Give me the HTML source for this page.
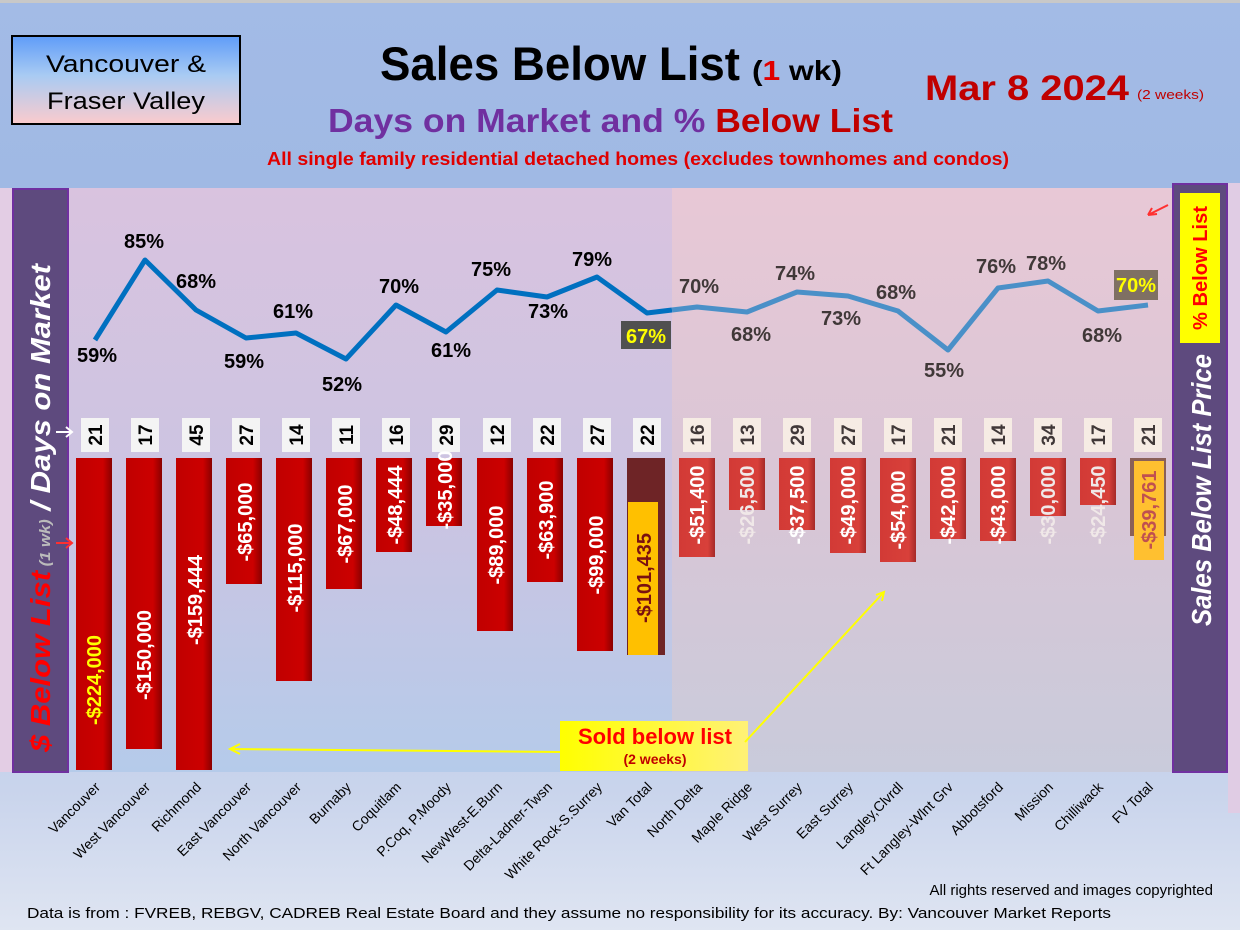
<!DOCTYPE html>
<html><head><meta charset="utf-8"><style>
html,body{margin:0;padding:0;width:1240px;height:930px;overflow:hidden}
svg{display:block;font-family:"Liberation Sans",sans-serif}
</style></head><body>
<svg width="1240" height="930" viewBox="0 0 1240 930" xmlns="http://www.w3.org/2000/svg">
<defs>
<linearGradient id="bg" x1="0" y1="0" x2="0" y2="1"><stop offset="0" stop-color="#a3bbe6"/><stop offset="0.2" stop-color="#a0b9e4"/><stop offset="0.85" stop-color="#c9d4ec"/><stop offset="1" stop-color="#dfe5f2"/></linearGradient>
<linearGradient id="pl" x1="0" y1="0" x2="0" y2="1"><stop offset="0" stop-color="#d9c3df"/><stop offset="0.55" stop-color="#cbc4e2"/><stop offset="1" stop-color="#b5cbea"/></linearGradient>
<linearGradient id="pr" x1="0" y1="0" x2="0" y2="1"><stop offset="0" stop-color="#e8c8d6"/><stop offset="0.55" stop-color="#d8c6d6"/><stop offset="1" stop-color="#c9cbdb"/></linearGradient>
<linearGradient id="logo" x1="0" y1="0" x2="0" y2="1"><stop offset="0" stop-color="#5f9cf8"/><stop offset="0.45" stop-color="#a9cbf3"/><stop offset="1" stop-color="#fbcbcd"/></linearGradient>
<linearGradient id="bar" x1="0" y1="0" x2="1" y2="0"><stop offset="0" stop-color="#c00000"/><stop offset="0.75" stop-color="#cc0000"/><stop offset="1" stop-color="#8a0000"/></linearGradient>
<linearGradient id="bar2" x1="0" y1="0" x2="1" y2="0"><stop offset="0" stop-color="#d23a36"/><stop offset="0.8" stop-color="#d8403a"/><stop offset="1" stop-color="#a52a28"/></linearGradient>
<linearGradient id="sold" x1="0" y1="0" x2="1" y2="0"><stop offset="0" stop-color="#ffff00"/><stop offset="1" stop-color="#fff176"/></linearGradient>
</defs>
<rect width="1240" height="930" fill="url(#bg)"/>
<rect x="0" y="0" width="1240" height="3" fill="#c8c8c8"/>
<rect x="68" y="188" width="604" height="584" fill="url(#pl)"/>
<rect x="672" y="188" width="500" height="584" fill="url(#pr)"/>
<rect x="1228" y="183" width="12" height="630" fill="#e0cce4"/>
<rect x="0" y="188" width="12" height="584" fill="#e3cde4"/>
<rect x="12" y="36" width="228" height="88" fill="url(#logo)" stroke="#000" stroke-width="2"/>
<text x="126" y="72" font-size="24" text-anchor="middle" fill="#000" textLength="160" lengthAdjust="spacingAndGlyphs">Vancouver &amp;</text>
<text x="126" y="109" font-size="24" text-anchor="middle" fill="#000" textLength="158" lengthAdjust="spacingAndGlyphs">Fraser Valley</text>
<text x="380" y="80" font-size="47" font-weight="bold" fill="#000" textLength="360" lengthAdjust="spacingAndGlyphs">Sales Below List</text>
<text x="752" y="80" font-size="28" font-weight="bold" fill="#000" textLength="90" lengthAdjust="spacingAndGlyphs">(<tspan fill="#e00000">1</tspan> wk)</text>
<text x="925" y="100" font-size="35" font-weight="bold" fill="#c00000" textLength="204" lengthAdjust="spacingAndGlyphs">Mar 8  2024</text>
<text x="1137" y="99" font-size="13" fill="#c00000" textLength="67" lengthAdjust="spacingAndGlyphs">(2 weeks)</text>
<text x="328" y="132" font-size="33" font-weight="bold" fill="#7030a0" textLength="565" lengthAdjust="spacingAndGlyphs">Days on Market and % <tspan fill="#c00000">Below List</tspan></text>
<text x="267" y="165" font-size="18" font-weight="bold" fill="#e00000" textLength="742" lengthAdjust="spacingAndGlyphs">All single family residential detached homes (excludes townhomes and condos)</text>
<rect x="13" y="189" width="55" height="583" fill="#5e4a7e" stroke="#7030a0" stroke-width="2"/>
<text transform="translate(50,752) rotate(-90)" font-size="28" font-weight="bold" font-style="italic" fill="#fff" textLength="488" lengthAdjust="spacingAndGlyphs"><tspan fill="#ff0000">$ Below List</tspan><tspan font-size="15" fill="#bbb"> (1 wk)</tspan> / Days on Market</text>
<rect x="1173" y="184" width="54" height="588" fill="#5e4a7e" stroke="#7030a0" stroke-width="2"/>
<rect x="1180" y="193" width="40" height="150" fill="#ffff00"/>
<text transform="translate(1207,330) rotate(-90)" font-size="20" font-weight="bold" fill="#ff0000" textLength="124" lengthAdjust="spacingAndGlyphs">% Below List</text>
<text transform="translate(1211,626) rotate(-90)" font-size="28" font-weight="bold" font-style="italic" fill="#fff" textLength="272" lengthAdjust="spacingAndGlyphs">Sales Below List Price</text>
<path d="M1168 205 L1148 215 M1148 215 l9 -1 M1148 215 l4 -7" stroke="#ff3030" stroke-width="2" fill="none"/>
<path d="M56 432 L72 432 M66 427 l6 5 -6 5" stroke="#fff" stroke-width="2" fill="none"/>
<path d="M56 543 L72 543 M66 538 l6 5 -6 5" stroke="#ff3030" stroke-width="2" fill="none"/>
<polyline fill="none" stroke="#0070c0" stroke-width="5" stroke-linejoin="round" points="95,340 145,260 196,310 246,338 296,333 346,359 396,305 446,332 497,290 547,297 597,277 647,313 672,310"/>
<polyline fill="none" stroke="#4a90c8" stroke-width="5" stroke-linejoin="round" points="672,310 697,307 747,312 797,292 848,296 898,311 948,350 998,288 1048,281 1098,311 1148,305"/>
<g font-size="20" font-weight="bold" text-anchor="middle" fill="#000">
<text x="97" y="362">59%</text><text x="144" y="248">85%</text><text x="196" y="288">68%</text><text x="244" y="368">59%</text><text x="293" y="318">61%</text><text x="342" y="391">52%</text><text x="399" y="293">70%</text><text x="451" y="357">61%</text><text x="491" y="276">75%</text><text x="548" y="318">73%</text><text x="592" y="266">79%</text>
</g>
<rect x="621" y="321" width="50" height="28" fill="#505050"/>
<text x="646" y="343" font-size="20" font-weight="bold" text-anchor="middle" fill="#ffff00">67%</text>
<g font-size="20" font-weight="bold" text-anchor="middle" fill="#403838">
<text x="699" y="293">70%</text><text x="751" y="341">68%</text><text x="795" y="280">74%</text><text x="841" y="325">73%</text><text x="896" y="299">68%</text><text x="944" y="377">55%</text><text x="996" y="273">76%</text><text x="1046" y="270">78%</text><text x="1102" y="342">68%</text>
</g>
<rect x="1114" y="270" width="44" height="30" fill="#7f7063"/>
<text x="1136" y="292" font-size="20" font-weight="bold" text-anchor="middle" fill="#ffff00">70%</text>
<g font-weight="bold">
<g><rect x="81" y="418" width="28" height="34" fill="#f4f4f4"/><text transform="translate(102,435) rotate(-90)" font-size="19" text-anchor="middle">21</text><rect x="76" y="458" width="36" height="312" fill="url(#bar)"/><text transform="translate(101,680) rotate(-90)" font-size="20" text-anchor="middle" fill="#ffff00">-$224,000</text></g>
<g><rect x="131" y="418" width="28" height="34" fill="#f4f4f4"/><text transform="translate(152,435) rotate(-90)" font-size="19" text-anchor="middle">17</text><rect x="126" y="458" width="36" height="291" fill="url(#bar)"/><text transform="translate(151,655) rotate(-90)" font-size="20" text-anchor="middle" fill="#fff">-$150,000</text></g>
<g><rect x="182" y="418" width="28" height="34" fill="#f4f4f4"/><text transform="translate(203,435) rotate(-90)" font-size="19" text-anchor="middle">45</text><rect x="176" y="458" width="36" height="312" fill="url(#bar)"/><text transform="translate(202,600) rotate(-90)" font-size="20" text-anchor="middle" fill="#fff">-$159,444</text></g>
<g><rect x="232" y="418" width="28" height="34" fill="#f4f4f4"/><text transform="translate(253,435) rotate(-90)" font-size="19" text-anchor="middle">27</text><rect x="226" y="458" width="36" height="126" fill="url(#bar)"/><text transform="translate(252,522) rotate(-90)" font-size="20" text-anchor="middle" fill="#fff">-$65,000</text></g>
<g><rect x="282" y="418" width="28" height="34" fill="#f4f4f4"/><text transform="translate(303,435) rotate(-90)" font-size="19" text-anchor="middle">14</text><rect x="276" y="458" width="36" height="223" fill="url(#bar)"/><text transform="translate(302,568) rotate(-90)" font-size="20" text-anchor="middle" fill="#fff">-$115,000</text></g>
<g><rect x="332" y="418" width="28" height="34" fill="#f4f4f4"/><text transform="translate(353,435) rotate(-90)" font-size="19" text-anchor="middle">11</text><rect x="326" y="458" width="36" height="131" fill="url(#bar)"/><text transform="translate(352,524) rotate(-90)" font-size="20" text-anchor="middle" fill="#fff">-$67,000</text></g>
<g><rect x="382" y="418" width="28" height="34" fill="#f4f4f4"/><text transform="translate(403,435) rotate(-90)" font-size="19" text-anchor="middle">16</text><rect x="376" y="458" width="36" height="94" fill="url(#bar)"/><text transform="translate(402,505) rotate(-90)" font-size="20" text-anchor="middle" fill="#fff">-$48,444</text></g>
<g><rect x="432" y="418" width="28" height="34" fill="#f4f4f4"/><text transform="translate(453,435) rotate(-90)" font-size="19" text-anchor="middle">29</text><rect x="426" y="458" width="36" height="68" fill="url(#bar)"/><text transform="translate(452,490) rotate(-90)" font-size="20" text-anchor="middle" fill="#fff">-$35,000</text></g>
<g><rect x="483" y="418" width="28" height="34" fill="#f4f4f4"/><text transform="translate(504,435) rotate(-90)" font-size="19" text-anchor="middle">12</text><rect x="477" y="458" width="36" height="173" fill="url(#bar)"/><text transform="translate(503,545) rotate(-90)" font-size="20" text-anchor="middle" fill="#fff">-$89,000</text></g>
<g><rect x="533" y="418" width="28" height="34" fill="#f4f4f4"/><text transform="translate(554,435) rotate(-90)" font-size="19" text-anchor="middle">22</text><rect x="527" y="458" width="36" height="124" fill="url(#bar)"/><text transform="translate(553,520) rotate(-90)" font-size="20" text-anchor="middle" fill="#fff">-$63,900</text></g>
<g><rect x="583" y="418" width="28" height="34" fill="#f4f4f4"/><text transform="translate(604,435) rotate(-90)" font-size="19" text-anchor="middle">27</text><rect x="577" y="458" width="36" height="193" fill="url(#bar)"/><text transform="translate(603,555) rotate(-90)" font-size="20" text-anchor="middle" fill="#fff">-$99,000</text></g>
<g><rect x="633" y="418" width="28" height="34" fill="#f4f4f4"/><text transform="translate(654,435) rotate(-90)" font-size="19" text-anchor="middle">22</text><rect x="627" y="458" width="38" height="197" fill="#6e2426"/><rect x="628" y="502" width="30" height="153" fill="#ffc000"/><text transform="translate(651,578) rotate(-90)" font-size="20" text-anchor="middle" fill="#7a1010">-$101,435</text></g>
</g>
<g font-weight="bold" fill="#403838">
<g><rect x="683" y="418" width="28" height="34" fill="#f6ece4"/><text transform="translate(704,435) rotate(-90)" font-size="19" text-anchor="middle">16</text><rect x="679" y="458" width="36" height="99" fill="url(#bar2)"/><text transform="translate(704,505) rotate(-90)" font-size="20" text-anchor="middle" fill="#fff">-$51,400</text></g>
<g><rect x="733" y="418" width="28" height="34" fill="#f6ece4"/><text transform="translate(754,435) rotate(-90)" font-size="19" text-anchor="middle">13</text><rect x="729" y="458" width="36" height="52" fill="url(#bar2)"/><text transform="translate(754,505) rotate(-90)" font-size="20" text-anchor="middle" fill="#f0e8e8">-$26,500</text></g>
<g><rect x="783" y="418" width="28" height="34" fill="#f6ece4"/><text transform="translate(804,435) rotate(-90)" font-size="19" text-anchor="middle">29</text><rect x="779" y="458" width="36" height="72" fill="url(#bar2)"/><text transform="translate(804,505) rotate(-90)" font-size="20" text-anchor="middle" fill="#fff">-$37,500</text></g>
<g><rect x="834" y="418" width="28" height="34" fill="#f6ece4"/><text transform="translate(855,435) rotate(-90)" font-size="19" text-anchor="middle">27</text><rect x="830" y="458" width="36" height="95" fill="url(#bar2)"/><text transform="translate(855,505) rotate(-90)" font-size="20" text-anchor="middle" fill="#fff">-$49,000</text></g>
<g><rect x="884" y="418" width="28" height="34" fill="#f6ece4"/><text transform="translate(905,435) rotate(-90)" font-size="19" text-anchor="middle">17</text><rect x="880" y="458" width="36" height="104" fill="url(#bar2)"/><text transform="translate(905,510) rotate(-90)" font-size="20" text-anchor="middle" fill="#fff">-$54,000</text></g>
<g><rect x="934" y="418" width="28" height="34" fill="#f6ece4"/><text transform="translate(955,435) rotate(-90)" font-size="19" text-anchor="middle">21</text><rect x="930" y="458" width="36" height="81" fill="url(#bar2)"/><text transform="translate(955,505) rotate(-90)" font-size="20" text-anchor="middle" fill="#fff">-$42,000</text></g>
<g><rect x="984" y="418" width="28" height="34" fill="#f6ece4"/><text transform="translate(1005,435) rotate(-90)" font-size="19" text-anchor="middle">14</text><rect x="980" y="458" width="36" height="83" fill="url(#bar2)"/><text transform="translate(1005,505) rotate(-90)" font-size="20" text-anchor="middle" fill="#fff">-$43,000</text></g>
<g><rect x="1034" y="418" width="28" height="34" fill="#f6ece4"/><text transform="translate(1055,435) rotate(-90)" font-size="19" text-anchor="middle">34</text><rect x="1030" y="458" width="36" height="58" fill="url(#bar2)"/><text transform="translate(1055,505) rotate(-90)" font-size="20" text-anchor="middle" fill="#f0e8e8">-$30,000</text></g>
<g><rect x="1084" y="418" width="28" height="34" fill="#f6ece4"/><text transform="translate(1105,435) rotate(-90)" font-size="19" text-anchor="middle">17</text><rect x="1080" y="458" width="36" height="47" fill="url(#bar2)"/><text transform="translate(1105,505) rotate(-90)" font-size="20" text-anchor="middle" fill="#f0e8e8">-$24,450</text></g>
<g><rect x="1134" y="418" width="28" height="34" fill="#f6ece4"/><text transform="translate(1155,435) rotate(-90)" font-size="19" text-anchor="middle">21</text><rect x="1130" y="458" width="36" height="78" fill="#8a6058"/><rect x="1134" y="461" width="30" height="99" fill="#ffc030"/><text transform="translate(1156,510) rotate(-90)" font-size="20" text-anchor="middle" fill="#c05050">-$39,761</text></g>
</g>
<rect x="560" y="721" width="188" height="50" fill="url(#sold)"/>
<text x="655" y="744" font-size="22" font-weight="bold" text-anchor="middle" fill="#ff0000">Sold below list</text>
<text x="655" y="764" font-size="14" font-weight="bold" text-anchor="middle" fill="#c00000">(2 weeks)</text>
<path d="M560 752 L230 749 M240 744 l-10 5 10 5" stroke="#ffff00" stroke-width="2" fill="none"/>
<path d="M745 742 L884 592 M876 595 l8 -3 -2 9" stroke="#ffff00" stroke-width="2" fill="none"/>
<g font-size="14" fill="#000" text-anchor="end">
<text transform="translate(101,788) rotate(-45)">Vancouver</text>
<text transform="translate(151,788) rotate(-45)">West Vancouver</text>
<text transform="translate(202,788) rotate(-45)">Richmond</text>
<text transform="translate(252,788) rotate(-45)">East Vancouver</text>
<text transform="translate(302,788) rotate(-45)">North Vancouver</text>
<text transform="translate(352,788) rotate(-45)">Burnaby</text>
<text transform="translate(402,788) rotate(-45)">Coquitlam</text>
<text transform="translate(452,788) rotate(-45)">P.Coq, P.Moody</text>
<text transform="translate(503,788) rotate(-45)">NewWest-E.Burn</text>
<text transform="translate(553,788) rotate(-45)">Delta-Ladner-Twsn</text>
<text transform="translate(603,788) rotate(-45)">White Rock-S.Surrey</text>
<text transform="translate(653,788) rotate(-45)">Van Total</text>
<text transform="translate(703,788) rotate(-45)">North Delta</text>
<text transform="translate(753,788) rotate(-45)">Maple Ridge</text>
<text transform="translate(803,788) rotate(-45)">West Surrey</text>
<text transform="translate(854,788) rotate(-45)">East Surrey</text>
<text transform="translate(904,788) rotate(-45)">Langley,Clvrdl</text>
<text transform="translate(954,788) rotate(-45)">Ft Langley-Wlnt Grv</text>
<text transform="translate(1004,788) rotate(-45)">Abbotsford</text>
<text transform="translate(1054,788) rotate(-45)">Mission</text>
<text transform="translate(1104,788) rotate(-45)">Chilliwack</text>
<text transform="translate(1154,788) rotate(-45)">FV Total</text>
</g>
<g font-size="15" fill="#000">
<text x="1213" y="895" text-anchor="end">All rights reserved and  images copyrighted</text>
<text x="27" y="918" textLength="1084" lengthAdjust="spacingAndGlyphs">Data is from : FVREB, REBGV, CADREB Real Estate Board and they assume no responsibility for its accuracy. By: Vancouver Market Reports</text>
</g>
</svg>
</body></html>
